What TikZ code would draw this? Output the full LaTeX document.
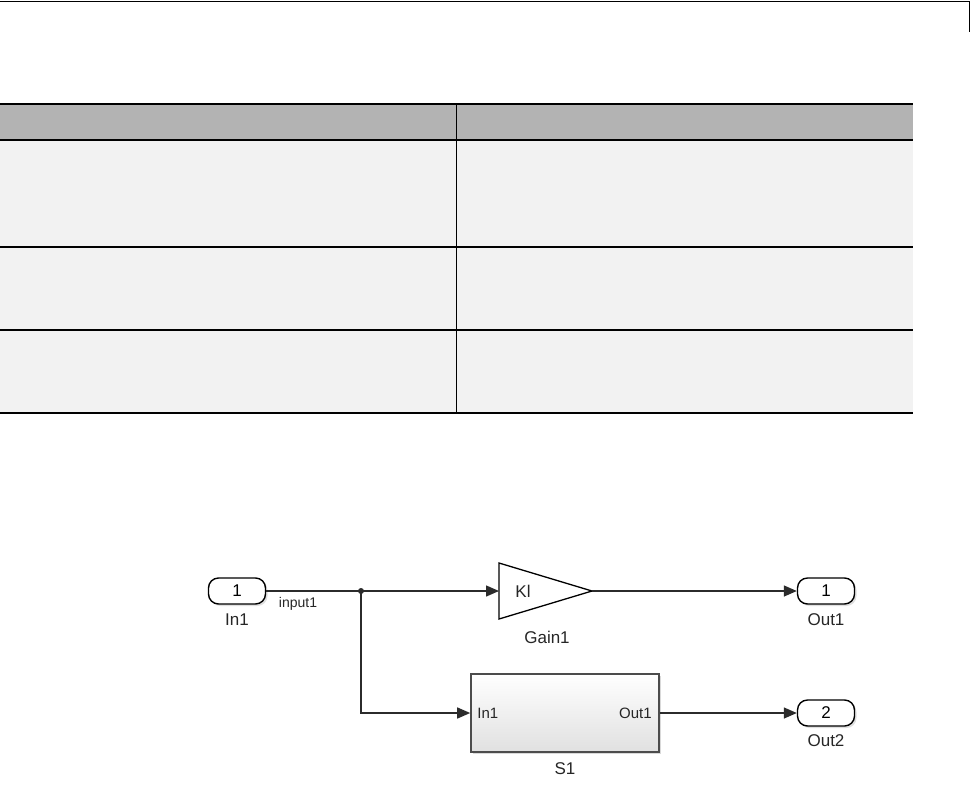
\documentclass[tikz,border=0pt]{standalone}
\usepackage{fontspec}
\setmainfont{Liberation Sans}
\usetikzlibrary{arrows.meta,shadows,positioning}

\definecolor{hdrgray}{HTML}{B3B3B3}
\definecolor{cellgray}{HTML}{F2F2F2}
\definecolor{wiregray}{HTML}{2B2B2B}

\tikzset{
  port/.style={draw=black, line width=1.4pt, rounded corners=10pt, fill=white,
    minimum width=57pt, minimum height=26pt, inner sep=0pt,
    font=\fontsize{17}{17}\selectfont,
    drop shadow={opacity=.25, shadow xshift=2pt, shadow yshift=-2pt}},
  lbl/.style={font=\fontsize{17}{17}\selectfont, text=black!85, inner sep=0pt},
  sig/.style={draw=wiregray, line width=1.4pt, -{Triangle[length=13pt,width=11pt]}},
  subsys/.style={draw=black!70, line width=1.6pt, top color=white, bottom color=black!12,
    minimum width=188pt, minimum height=78pt,
    drop shadow={opacity=.3, shadow xshift=2pt, shadow yshift=-2pt}},
  rowline/.style={line width=1.2pt},
}

\begin{document}
\begin{tikzpicture}[x=1pt,y=-1pt]
    \useasboundingbox (0,0) rectangle (973,795);
    % page rule
    \draw[line width=1pt] (0,1) -- (969,1) -- (969,32);
    % table
    \fill[hdrgray] (0,104) rectangle (913,140);
    \fill[cellgray] (0,140) rectangle (913,413);
    \foreach \y in {104,140,247,330,413}
        \draw[rowline] (0,\y) -- (913,\y);
    \draw[line width=.6pt] (456,104) -- (456,413);
    % ports
    \node[port] (in1) at (237,591) {1};
    \node[lbl] (in1name) at (237,620) {In1};
    \node[port] (out1) at (826,591) {1};
    \node[lbl] (out1name) at (826,620) {Out1};
    \node[port] (out2) at (826,713) {2};
    \node[lbl] (out2name) at (826,741) {Out2};
    % gain
    \draw[line width=1.3pt, fill=white] (499,563) -- (592,591) -- (499,619) -- cycle;
    \coordinate (gainin) at (499,591);
    \coordinate (gainout) at (592,591);
    \node[lbl] (gain) at (523,591) {Kl};
    \node[lbl] (gainname) at (547,637) {Gain1};
    % subsystem
    \node[subsys] (s1) at (565,713) {};
    \node[lbl, right, font=\fontsize{15}{15}\selectfont] (s1in) at ([xshift=7pt]s1.west) {In1};
    \node[lbl, left, font=\fontsize{15}{15}\selectfont] (s1out) at ([xshift=-8pt]s1.east) {Out1};
    \node[lbl] (s1name) at (565,769) {S1};
    % signals
    \coordinate (split) at (361,591);
    \draw[wiregray, line width=1.4pt] (in1.east) -- (split);
    \fill[wiregray] (split) circle (3pt);
    \node[lbl, font=\fontsize{14}{14}\selectfont] (sig) at (298,604) {input1};
    \draw[sig] (split) -- (gainin);
    \draw[sig] (split) |- (s1.west);
    \draw[sig] (gainout) -- (out1.west);
    \draw[sig] (s1.east) -- (out2.west);
\end{tikzpicture}
\end{document}
